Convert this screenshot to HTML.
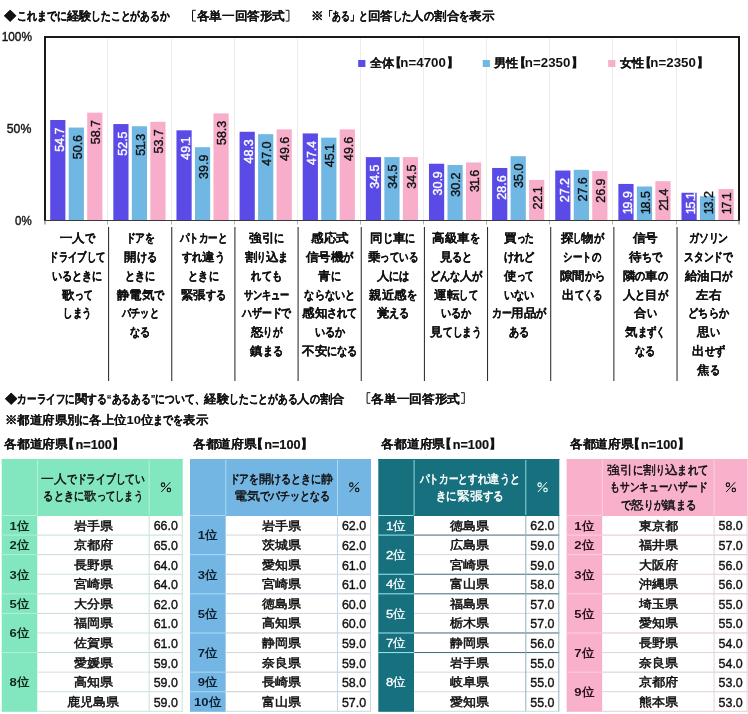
<!DOCTYPE html>
<html lang="ja"><head><meta charset="utf-8"><title>chart</title>
<style>
html,body{margin:0;padding:0;background:#ffffff;width:748px;height:714px;overflow:hidden;}
svg{display:block;will-change:transform;font-family:"Liberation Sans", sans-serif;}
</style></head><body>
<svg width="748" height="714" viewBox="0 0 748 714">
<rect x="107.00" y="38.00" width="1.00" height="182.00" fill="#ececec"/>
<rect x="171.00" y="38.00" width="1.00" height="182.00" fill="#ececec"/>
<rect x="234.00" y="38.00" width="1.00" height="182.00" fill="#ececec"/>
<rect x="297.00" y="38.00" width="1.00" height="182.00" fill="#ececec"/>
<rect x="360.00" y="38.00" width="1.00" height="182.00" fill="#ececec"/>
<rect x="423.00" y="38.00" width="1.00" height="182.00" fill="#ececec"/>
<rect x="486.00" y="38.00" width="1.00" height="182.00" fill="#ececec"/>
<rect x="549.00" y="38.00" width="1.00" height="182.00" fill="#ececec"/>
<rect x="612.00" y="38.00" width="1.00" height="182.00" fill="#ececec"/>
<rect x="676.00" y="38.00" width="1.00" height="182.00" fill="#ececec"/>
<rect x="50.20" y="120.02" width="15.20" height="100.48" fill="#5b4be6"/>
<rect x="68.70" y="127.55" width="15.20" height="92.95" fill="#70b7e3"/>
<rect x="87.20" y="112.67" width="15.20" height="107.83" fill="#f8aecb"/>
<rect x="113.33" y="124.06" width="15.20" height="96.44" fill="#5b4be6"/>
<rect x="131.83" y="126.26" width="15.20" height="94.24" fill="#70b7e3"/>
<rect x="150.33" y="121.85" width="15.20" height="98.65" fill="#f8aecb"/>
<rect x="176.46" y="130.30" width="15.20" height="90.20" fill="#5b4be6"/>
<rect x="194.96" y="147.20" width="15.20" height="73.30" fill="#70b7e3"/>
<rect x="213.46" y="113.40" width="15.20" height="107.10" fill="#f8aecb"/>
<rect x="239.59" y="131.77" width="15.20" height="88.73" fill="#5b4be6"/>
<rect x="258.09" y="134.16" width="15.20" height="86.34" fill="#70b7e3"/>
<rect x="276.59" y="129.38" width="15.20" height="91.12" fill="#f8aecb"/>
<rect x="302.72" y="133.43" width="15.20" height="87.07" fill="#5b4be6"/>
<rect x="321.22" y="137.65" width="15.20" height="82.85" fill="#70b7e3"/>
<rect x="339.72" y="129.38" width="15.20" height="91.12" fill="#f8aecb"/>
<rect x="365.85" y="157.12" width="15.20" height="63.38" fill="#5b4be6"/>
<rect x="384.35" y="157.12" width="15.20" height="63.38" fill="#70b7e3"/>
<rect x="402.85" y="157.12" width="15.20" height="63.38" fill="#f8aecb"/>
<rect x="428.98" y="163.74" width="15.20" height="56.76" fill="#5b4be6"/>
<rect x="447.48" y="165.02" width="15.20" height="55.48" fill="#70b7e3"/>
<rect x="465.98" y="162.45" width="15.20" height="58.05" fill="#f8aecb"/>
<rect x="492.11" y="167.96" width="15.20" height="52.54" fill="#5b4be6"/>
<rect x="510.61" y="156.20" width="15.20" height="64.30" fill="#70b7e3"/>
<rect x="529.11" y="179.90" width="15.20" height="40.60" fill="#f8aecb"/>
<rect x="555.24" y="170.53" width="15.20" height="49.97" fill="#5b4be6"/>
<rect x="573.74" y="169.80" width="15.20" height="50.70" fill="#70b7e3"/>
<rect x="592.24" y="171.08" width="15.20" height="49.42" fill="#f8aecb"/>
<rect x="618.37" y="183.94" width="15.20" height="36.56" fill="#5b4be6"/>
<rect x="636.87" y="186.52" width="15.20" height="33.98" fill="#70b7e3"/>
<rect x="655.37" y="181.19" width="15.20" height="39.31" fill="#f8aecb"/>
<rect x="681.50" y="192.76" width="15.20" height="27.74" fill="#5b4be6"/>
<rect x="700.00" y="196.25" width="15.20" height="24.25" fill="#70b7e3"/>
<rect x="718.50" y="189.09" width="15.20" height="31.41" fill="#f8aecb"/>
<rect x="44.00" y="36.00" width="2.00" height="185.00" fill="#1a1a1a"/>
<rect x="44.00" y="36.00" width="696.00" height="2.00" fill="#1a1a1a"/>
<rect x="738.00" y="36.00" width="2.00" height="185.00" fill="#1a1a1a"/>
<rect x="44.00" y="220.00" width="696.00" height="1.00" fill="#3a3a3a"/>
<rect x="44.00" y="221.00" width="2.00" height="3.50" fill="#b4b4b4"/>
<rect x="107.00" y="221.00" width="1.00" height="3.50" fill="#b4b4b4"/>
<rect x="171.00" y="221.00" width="1.00" height="3.50" fill="#b4b4b4"/>
<rect x="234.00" y="221.00" width="1.00" height="3.50" fill="#b4b4b4"/>
<rect x="297.00" y="221.00" width="1.00" height="3.50" fill="#b4b4b4"/>
<rect x="360.00" y="221.00" width="1.00" height="3.50" fill="#b4b4b4"/>
<rect x="423.00" y="221.00" width="1.00" height="3.50" fill="#b4b4b4"/>
<rect x="486.00" y="221.00" width="1.00" height="3.50" fill="#b4b4b4"/>
<rect x="549.00" y="221.00" width="1.00" height="3.50" fill="#b4b4b4"/>
<rect x="612.00" y="221.00" width="1.00" height="3.50" fill="#b4b4b4"/>
<rect x="676.00" y="221.00" width="1.00" height="3.50" fill="#b4b4b4"/>
<rect x="738.00" y="221.00" width="2.00" height="3.50" fill="#b4b4b4"/>
<rect x="108.10" y="227.00" width="1.00" height="154.00" fill="#222"/>
<rect x="171.26" y="227.00" width="1.00" height="154.00" fill="#222"/>
<rect x="234.42" y="227.00" width="1.00" height="154.00" fill="#222"/>
<rect x="297.58" y="227.00" width="1.00" height="154.00" fill="#222"/>
<rect x="360.74" y="227.00" width="1.00" height="154.00" fill="#222"/>
<rect x="423.90" y="227.00" width="1.00" height="154.00" fill="#222"/>
<rect x="487.06" y="227.00" width="1.00" height="154.00" fill="#222"/>
<rect x="550.22" y="227.00" width="1.00" height="154.00" fill="#222"/>
<rect x="613.38" y="227.00" width="1.00" height="154.00" fill="#222"/>
<rect x="676.54" y="227.00" width="1.00" height="154.00" fill="#222"/>
<rect x="358.20" y="60.00" width="7.20" height="7.00" fill="#5b4be6"/>
<path d="M396.60,56.20 H400.50 Q397.90,62.35 400.50,68.50 H396.60 Z" fill="#111"/>
<path d="M451.70,56.20 H447.80 Q450.40,62.35 447.80,68.50 H451.70 Z" fill="#111"/>
<rect x="482.70" y="60.00" width="7.20" height="7.00" fill="#70b7e3"/>
<path d="M521.10,56.20 H525.00 Q522.40,62.35 525.00,68.50 H521.10 Z" fill="#111"/>
<path d="M576.20,56.20 H572.30 Q574.90,62.35 572.30,68.50 H576.20 Z" fill="#111"/>
<rect x="608.20" y="60.00" width="7.20" height="7.00" fill="#f8aecb"/>
<path d="M646.60,56.20 H650.50 Q647.90,62.35 650.50,68.50 H646.60 Z" fill="#111"/>
<path d="M701.70,56.20 H697.80 Q700.40,62.35 697.80,68.50 H701.70 Z" fill="#111"/>
<path d="M195.80,10.30 H192.50 V21.10 H195.80" fill="none" stroke="#111" stroke-width="1"/>
<path d="M285.60,10.30 H288.90 V21.10 H285.60" fill="none" stroke="#111" stroke-width="1"/>
<path d="M370.40,392.70 H367.10 V403.30 H370.40" fill="none" stroke="#111" stroke-width="1"/>
<path d="M461.00,392.70 H464.30 V403.30 H461.00" fill="none" stroke="#111" stroke-width="1"/>
<path d="M69.30,437.60 H73.50 Q70.60,443.70 73.50,449.80 H69.30 Z" fill="#111"/>
<path d="M117.00,437.60 H113.00 Q115.70,443.70 113.00,449.80 H117.00 Z" fill="#111"/>
<rect x="1.70" y="459.00" width="181.00" height="57.00" fill="#82e6be"/>
<rect x="1.70" y="515.50" width="35.80" height="196.30" fill="#82e6be"/>
<rect x="37.50" y="516.00" width="145.20" height="195.80" fill="#ffffff"/>
<rect x="1.70" y="459.00" width="181.00" height="1.00" fill="#82e6be"/>
<rect x="37.00" y="460.00" width="1.00" height="56.00" fill="#b8f0d8"/>
<rect x="148.70" y="460.00" width="1.00" height="56.00" fill="#b8f0d8"/>
<rect x="1.70" y="515.00" width="35.80" height="1.00" fill="#b0f2d4"/>
<rect x="37.00" y="515.00" width="145.70" height="1.00" fill="#82e6be"/>
<rect x="37.50" y="534.58" width="145.20" height="1.00" fill="#c4dcd2"/>
<rect x="1.70" y="534.58" width="35.80" height="1.00" fill="#b0f2d4"/>
<rect x="37.50" y="554.16" width="145.20" height="1.00" fill="#c4dcd2"/>
<rect x="1.70" y="554.16" width="35.80" height="1.00" fill="#b0f2d4"/>
<rect x="37.50" y="573.74" width="145.20" height="1.00" fill="#cde3d9"/>
<rect x="37.50" y="593.32" width="145.20" height="1.00" fill="#c4dcd2"/>
<rect x="1.70" y="593.32" width="35.80" height="1.00" fill="#b0f2d4"/>
<rect x="37.50" y="612.90" width="145.20" height="1.00" fill="#c4dcd2"/>
<rect x="1.70" y="612.90" width="35.80" height="1.00" fill="#b0f2d4"/>
<rect x="37.50" y="632.48" width="145.20" height="1.00" fill="#cde3d9"/>
<rect x="37.50" y="652.06" width="145.20" height="1.00" fill="#c4dcd2"/>
<rect x="1.70" y="652.06" width="35.80" height="1.00" fill="#b0f2d4"/>
<rect x="37.50" y="671.64" width="145.20" height="1.00" fill="#cde3d9"/>
<rect x="37.50" y="691.22" width="145.20" height="1.00" fill="#cde3d9"/>
<rect x="148.70" y="516.00" width="1.00" height="195.80" fill="#c4e4d6"/>
<rect x="181.70" y="516.00" width="1.00" height="195.80" fill="#c4e4d6"/>
<rect x="37.50" y="710.80" width="145.20" height="1.00" fill="#cde3d9"/>
<ellipse cx="163.00" cy="484.7" rx="1.7" ry="1.85" fill="none" stroke="#111" stroke-width="1.15"/>
<ellipse cx="168.90" cy="489.9" rx="1.7" ry="1.85" fill="none" stroke="#111" stroke-width="1.15"/>
<path d="M161.30,492.0 L170.30,482.2" stroke="#111" stroke-width="1.0"/>
<path d="M258.00,437.60 H262.20 Q259.30,443.70 262.20,449.80 H258.00 Z" fill="#111"/>
<path d="M305.70,437.60 H301.70 Q304.40,443.70 301.70,449.80 H305.70 Z" fill="#111"/>
<rect x="190.00" y="459.00" width="181.00" height="57.00" fill="#74b6e3"/>
<rect x="190.00" y="515.50" width="35.80" height="196.30" fill="#74b6e3"/>
<rect x="225.80" y="516.00" width="145.20" height="195.80" fill="#ffffff"/>
<rect x="190.00" y="459.00" width="181.00" height="1.00" fill="#74b6e3"/>
<rect x="225.30" y="460.00" width="1.00" height="56.00" fill="#a6dcf8"/>
<rect x="337.00" y="460.00" width="1.00" height="56.00" fill="#a6dcf8"/>
<rect x="190.00" y="515.00" width="35.80" height="1.00" fill="#a6dcf8"/>
<rect x="225.30" y="515.00" width="145.70" height="1.00" fill="#74b6e3"/>
<rect x="225.80" y="534.58" width="145.20" height="1.00" fill="#d0d6de"/>
<rect x="225.80" y="554.16" width="145.20" height="1.00" fill="#c4ccd6"/>
<rect x="190.00" y="554.16" width="35.80" height="1.00" fill="#a6dcf8"/>
<rect x="225.80" y="573.74" width="145.20" height="1.00" fill="#d0d6de"/>
<rect x="225.80" y="593.32" width="145.20" height="1.00" fill="#c4ccd6"/>
<rect x="190.00" y="593.32" width="35.80" height="1.00" fill="#a6dcf8"/>
<rect x="225.80" y="612.90" width="145.20" height="1.00" fill="#d0d6de"/>
<rect x="225.80" y="632.48" width="145.20" height="1.00" fill="#c4ccd6"/>
<rect x="190.00" y="632.48" width="35.80" height="1.00" fill="#a6dcf8"/>
<rect x="225.80" y="652.06" width="145.20" height="1.00" fill="#d0d6de"/>
<rect x="225.80" y="671.64" width="145.20" height="1.00" fill="#c4ccd6"/>
<rect x="190.00" y="671.64" width="35.80" height="1.00" fill="#a6dcf8"/>
<rect x="225.80" y="691.22" width="145.20" height="1.00" fill="#c4ccd6"/>
<rect x="190.00" y="691.22" width="35.80" height="1.00" fill="#a6dcf8"/>
<rect x="337.00" y="516.00" width="1.00" height="195.80" fill="#c8d8e6"/>
<rect x="370.00" y="516.00" width="1.00" height="195.80" fill="#c8d8e6"/>
<rect x="225.80" y="710.80" width="145.20" height="1.00" fill="#d0d6de"/>
<ellipse cx="351.30" cy="484.7" rx="1.7" ry="1.85" fill="none" stroke="#111" stroke-width="1.15"/>
<ellipse cx="357.20" cy="489.9" rx="1.7" ry="1.85" fill="none" stroke="#111" stroke-width="1.15"/>
<path d="M349.60,492.0 L358.60,482.2" stroke="#111" stroke-width="1.0"/>
<path d="M446.50,437.60 H450.70 Q447.80,443.70 450.70,449.80 H446.50 Z" fill="#111"/>
<path d="M494.20,437.60 H490.20 Q492.90,443.70 490.20,449.80 H494.20 Z" fill="#111"/>
<rect x="378.30" y="459.00" width="181.00" height="57.00" fill="#16707e"/>
<rect x="378.30" y="515.50" width="35.80" height="196.30" fill="#16707e"/>
<rect x="414.10" y="516.00" width="145.20" height="195.80" fill="#ffffff"/>
<rect x="378.30" y="459.00" width="181.00" height="1.00" fill="#16707e"/>
<rect x="413.60" y="460.00" width="1.00" height="56.00" fill="#8fd8e0"/>
<rect x="525.30" y="460.00" width="1.00" height="56.00" fill="#8fd8e0"/>
<rect x="378.30" y="515.00" width="35.80" height="1.00" fill="#a0e8f0"/>
<rect x="413.60" y="515.00" width="145.70" height="1.00" fill="#16707e"/>
<rect x="414.10" y="534.58" width="145.20" height="1.00" fill="#3f6c74"/>
<rect x="378.30" y="534.58" width="35.80" height="1.00" fill="#a0e8f0"/>
<rect x="414.10" y="554.16" width="145.20" height="1.00" fill="#d0dadc"/>
<rect x="414.10" y="573.74" width="145.20" height="1.00" fill="#3f6c74"/>
<rect x="378.30" y="573.74" width="35.80" height="1.00" fill="#a0e8f0"/>
<rect x="414.10" y="593.32" width="145.20" height="1.00" fill="#3f6c74"/>
<rect x="378.30" y="593.32" width="35.80" height="1.00" fill="#a0e8f0"/>
<rect x="414.10" y="612.90" width="145.20" height="1.00" fill="#d0dadc"/>
<rect x="414.10" y="632.48" width="145.20" height="1.00" fill="#3f6c74"/>
<rect x="378.30" y="632.48" width="35.80" height="1.00" fill="#a0e8f0"/>
<rect x="414.10" y="652.06" width="145.20" height="1.00" fill="#3f6c74"/>
<rect x="378.30" y="652.06" width="35.80" height="1.00" fill="#a0e8f0"/>
<rect x="414.10" y="671.64" width="145.20" height="1.00" fill="#d0dadc"/>
<rect x="414.10" y="691.22" width="145.20" height="1.00" fill="#d0dadc"/>
<rect x="525.30" y="516.00" width="1.00" height="195.80" fill="#8fb2b8"/>
<rect x="558.30" y="516.00" width="1.00" height="195.80" fill="#8fb2b8"/>
<rect x="414.10" y="710.80" width="145.20" height="1.00" fill="#d0dadc"/>
<ellipse cx="539.60" cy="484.7" rx="1.7" ry="1.85" fill="none" stroke="#ffffff" stroke-width="1.15"/>
<ellipse cx="545.50" cy="489.9" rx="1.7" ry="1.85" fill="none" stroke="#ffffff" stroke-width="1.15"/>
<path d="M537.90,492.0 L546.90,482.2" stroke="#ffffff" stroke-width="1.0"/>
<path d="M634.90,437.60 H639.10 Q636.20,443.70 639.10,449.80 H634.90 Z" fill="#111"/>
<path d="M682.60,437.60 H678.60 Q681.30,443.70 678.60,449.80 H682.60 Z" fill="#111"/>
<rect x="566.60" y="459.00" width="181.00" height="57.00" fill="#f8b0cb"/>
<rect x="566.60" y="515.50" width="35.80" height="196.30" fill="#f8b0cb"/>
<rect x="602.40" y="516.00" width="145.20" height="195.80" fill="#ffffff"/>
<rect x="566.60" y="459.00" width="181.00" height="1.00" fill="#f8b0cb"/>
<rect x="601.90" y="460.00" width="1.00" height="56.00" fill="#fcd0e0"/>
<rect x="713.60" y="460.00" width="1.00" height="56.00" fill="#fcd0e0"/>
<rect x="566.60" y="515.00" width="35.80" height="1.00" fill="#fcd0e0"/>
<rect x="601.90" y="515.00" width="145.70" height="1.00" fill="#f8b0cb"/>
<rect x="602.40" y="534.58" width="145.20" height="1.00" fill="#dcc8d0"/>
<rect x="566.60" y="534.58" width="35.80" height="1.00" fill="#fcd0e0"/>
<rect x="602.40" y="554.16" width="145.20" height="1.00" fill="#dcc8d0"/>
<rect x="566.60" y="554.16" width="35.80" height="1.00" fill="#fcd0e0"/>
<rect x="602.40" y="573.74" width="145.20" height="1.00" fill="#e2d2d8"/>
<rect x="602.40" y="593.32" width="145.20" height="1.00" fill="#dcc8d0"/>
<rect x="566.60" y="593.32" width="35.80" height="1.00" fill="#fcd0e0"/>
<rect x="602.40" y="612.90" width="145.20" height="1.00" fill="#e2d2d8"/>
<rect x="602.40" y="632.48" width="145.20" height="1.00" fill="#dcc8d0"/>
<rect x="566.60" y="632.48" width="35.80" height="1.00" fill="#fcd0e0"/>
<rect x="602.40" y="652.06" width="145.20" height="1.00" fill="#e2d2d8"/>
<rect x="602.40" y="671.64" width="145.20" height="1.00" fill="#dcc8d0"/>
<rect x="566.60" y="671.64" width="35.80" height="1.00" fill="#fcd0e0"/>
<rect x="602.40" y="691.22" width="145.20" height="1.00" fill="#e2d2d8"/>
<rect x="713.60" y="516.00" width="1.00" height="195.80" fill="#e6d2da"/>
<rect x="746.60" y="516.00" width="1.00" height="195.80" fill="#e6d2da"/>
<rect x="602.40" y="710.80" width="145.20" height="1.00" fill="#e2d2d8"/>
<ellipse cx="727.90" cy="484.7" rx="1.7" ry="1.85" fill="none" stroke="#111" stroke-width="1.15"/>
<ellipse cx="733.80" cy="489.9" rx="1.7" ry="1.85" fill="none" stroke="#111" stroke-width="1.15"/>
<path d="M726.20,492.0 L735.20,482.2" stroke="#111" stroke-width="1.0"/>
<text transform="translate(63.67,151.72) rotate(-90)" x="0.02 7.02 13.91 17.32" font-size="12.5" fill="#fff" stroke="#fff" stroke-width="0.38">54.7</text>
<text transform="translate(81.57,159.25) rotate(-90)" x="0.02 7.02 13.91 17.32" font-size="12.5" fill="#111" stroke="#111" stroke-width="0.38">50.6</text>
<text transform="translate(100.07,144.37) rotate(-90)" x="0.02 7.02 13.91 17.32" font-size="12.5" fill="#111" stroke="#111" stroke-width="0.38">58.7</text>
<text transform="translate(126.80,155.76) rotate(-90)" x="0.02 7.02 13.91 17.32" font-size="12.5" fill="#fff" stroke="#fff" stroke-width="0.38">52.5</text>
<text transform="translate(144.71,155.76) rotate(-90)" x="0.02 5.92 11.71 15.12" font-size="12.5" fill="#111" stroke="#111" stroke-width="0.38">51.3</text>
<text transform="translate(163.21,153.55) rotate(-90)" x="0.02 7.02 13.91 17.32" font-size="12.5" fill="#111" stroke="#111" stroke-width="0.38">53.7</text>
<text transform="translate(189.94,159.80) rotate(-90)" x="0.02 7.02 13.91 16.23" font-size="12.5" fill="#fff" stroke="#fff" stroke-width="0.38">49.1</text>
<text transform="translate(207.84,178.90) rotate(-90)" x="0.02 7.02 13.91 17.32" font-size="12.5" fill="#111" stroke="#111" stroke-width="0.38">39.9</text>
<text transform="translate(226.34,145.10) rotate(-90)" x="0.02 7.02 13.91 17.32" font-size="12.5" fill="#111" stroke="#111" stroke-width="0.38">58.3</text>
<text transform="translate(253.06,163.47) rotate(-90)" x="0.02 7.02 13.91 17.32" font-size="12.5" fill="#fff" stroke="#fff" stroke-width="0.38">48.3</text>
<text transform="translate(270.97,165.86) rotate(-90)" x="0.02 7.02 13.91 17.32" font-size="12.5" fill="#111" stroke="#111" stroke-width="0.38">47.0</text>
<text transform="translate(289.47,161.08) rotate(-90)" x="0.02 7.02 13.91 17.32" font-size="12.5" fill="#111" stroke="#111" stroke-width="0.38">49.6</text>
<text transform="translate(316.20,165.13) rotate(-90)" x="0.02 7.02 13.91 17.32" font-size="12.5" fill="#fff" stroke="#fff" stroke-width="0.38">47.4</text>
<text transform="translate(334.10,167.15) rotate(-90)" x="0.02 7.02 13.91 16.23" font-size="12.5" fill="#111" stroke="#111" stroke-width="0.38">45.1</text>
<text transform="translate(352.60,161.08) rotate(-90)" x="0.02 7.02 13.91 17.32" font-size="12.5" fill="#111" stroke="#111" stroke-width="0.38">49.6</text>
<text transform="translate(379.33,188.82) rotate(-90)" x="0.02 7.02 13.91 17.32" font-size="12.5" fill="#fff" stroke="#fff" stroke-width="0.38">34.5</text>
<text transform="translate(397.23,188.82) rotate(-90)" x="0.02 7.02 13.91 17.32" font-size="12.5" fill="#111" stroke="#111" stroke-width="0.38">34.5</text>
<text transform="translate(415.73,188.82) rotate(-90)" x="0.02 7.02 13.91 17.32" font-size="12.5" fill="#111" stroke="#111" stroke-width="0.38">34.5</text>
<text transform="translate(442.46,195.44) rotate(-90)" x="0.02 7.02 13.91 17.32" font-size="12.5" fill="#fff" stroke="#fff" stroke-width="0.38">30.9</text>
<text transform="translate(460.36,196.72) rotate(-90)" x="0.02 7.02 13.91 17.32" font-size="12.5" fill="#111" stroke="#111" stroke-width="0.38">30.2</text>
<text transform="translate(478.86,191.95) rotate(-90)" x="0.02 5.92 11.71 15.12" font-size="12.5" fill="#111" stroke="#111" stroke-width="0.38">31.6</text>
<text transform="translate(505.59,199.66) rotate(-90)" x="0.02 7.02 13.91 17.32" font-size="12.5" fill="#fff" stroke="#fff" stroke-width="0.38">28.6</text>
<text transform="translate(523.49,187.90) rotate(-90)" x="0.02 7.02 13.91 17.32" font-size="12.5" fill="#111" stroke="#111" stroke-width="0.38">35.0</text>
<text transform="translate(541.99,209.40) rotate(-90)" x="0.02 7.02 13.91 16.23" font-size="12.5" fill="#111" stroke="#111" stroke-width="0.38">22.1</text>
<text transform="translate(568.72,202.23) rotate(-90)" x="0.02 7.02 13.91 17.32" font-size="12.5" fill="#fff" stroke="#fff" stroke-width="0.38">27.2</text>
<text transform="translate(586.62,201.50) rotate(-90)" x="0.02 7.02 13.91 17.32" font-size="12.5" fill="#111" stroke="#111" stroke-width="0.38">27.6</text>
<text transform="translate(605.12,202.78) rotate(-90)" x="0.02 7.02 13.91 17.32" font-size="12.5" fill="#111" stroke="#111" stroke-width="0.38">26.9</text>
<text transform="translate(631.85,213.20) rotate(-90)" x="-1.08 4.82 11.71 15.12" font-size="12.5" fill="#fff" stroke="#fff" stroke-width="0.38">19.9</text>
<text transform="translate(649.75,213.20) rotate(-90)" x="-1.08 4.82 11.71 15.12" font-size="12.5" fill="#111" stroke="#111" stroke-width="0.38">18.5</text>
<text transform="translate(668.25,210.69) rotate(-90)" x="0.02 5.92 11.71 15.12" font-size="12.5" fill="#111" stroke="#111" stroke-width="0.38">21.4</text>
<text transform="translate(694.98,213.20) rotate(-90)" x="-1.08 4.82 11.71 14.03" font-size="12.5" fill="#fff" stroke="#fff" stroke-width="0.38">15.1</text>
<text transform="translate(712.88,213.20) rotate(-90)" x="-1.08 4.82 11.71 15.12" font-size="12.5" fill="#111" stroke="#111" stroke-width="0.38">13.2</text>
<text transform="translate(731.38,213.20) rotate(-90)" x="-1.08 4.82 11.71 14.03" font-size="12.5" fill="#111" stroke="#111" stroke-width="0.38">17.1</text>
<text x="59.70" y="242.30" font-size="11.62" font-weight="bold" fill="#111" stroke="#111" stroke-width="0.10" textLength="25.00" lengthAdjust="spacingAndGlyphs">一人</text>
<text x="84.70" y="242.30" font-size="11.62" font-weight="bold" fill="#111" stroke="#111" stroke-width="0.30" textLength="10.12" lengthAdjust="spacingAndGlyphs">で</text>
<text x="49.20" y="261.05" font-size="11.62" font-weight="bold" fill="#111" stroke="#111" stroke-width="0.30" textLength="56.12" lengthAdjust="spacingAndGlyphs">ドライブして</text>
<text x="51.95" y="279.80" font-size="11.62" font-weight="bold" fill="#111" stroke="#111" stroke-width="0.30" textLength="50.62" lengthAdjust="spacingAndGlyphs">いるときに</text>
<text x="62.33" y="298.55" font-size="11.62" font-weight="bold" fill="#111" stroke="#111" stroke-width="0.10" textLength="12.50" lengthAdjust="spacingAndGlyphs">歌</text>
<text x="74.83" y="298.55" font-size="11.62" font-weight="bold" fill="#111" stroke="#111" stroke-width="0.30" textLength="17.38" lengthAdjust="spacingAndGlyphs">って</text>
<text x="63.02" y="317.30" font-size="11.62" font-weight="bold" fill="#111" stroke="#111" stroke-width="0.30" textLength="28.50" lengthAdjust="spacingAndGlyphs">しまう</text>
<text x="125.71" y="242.30" font-size="11.62" font-weight="bold" fill="#111" stroke="#111" stroke-width="0.30" textLength="29.38" lengthAdjust="spacingAndGlyphs">ドアを</text>
<text x="124.02" y="261.05" font-size="11.62" font-weight="bold" fill="#111" stroke="#111" stroke-width="0.10" textLength="12.50" lengthAdjust="spacingAndGlyphs">開</text>
<text x="136.52" y="261.05" font-size="11.62" font-weight="bold" fill="#111" stroke="#111" stroke-width="0.30" textLength="20.25" lengthAdjust="spacingAndGlyphs">ける</text>
<text x="125.21" y="279.80" font-size="11.62" font-weight="bold" fill="#111" stroke="#111" stroke-width="0.30" textLength="30.38" lengthAdjust="spacingAndGlyphs">ときに</text>
<text x="116.58" y="298.55" font-size="11.62" font-weight="bold" fill="#111" stroke="#111" stroke-width="0.10" textLength="37.50" lengthAdjust="spacingAndGlyphs">静電気</text>
<text x="154.08" y="298.55" font-size="11.62" font-weight="bold" fill="#111" stroke="#111" stroke-width="0.30" textLength="10.12" lengthAdjust="spacingAndGlyphs">で</text>
<text x="122.08" y="317.30" font-size="11.62" font-weight="bold" fill="#111" stroke="#111" stroke-width="0.30" textLength="36.62" lengthAdjust="spacingAndGlyphs">バチッと</text>
<text x="130.27" y="336.05" font-size="11.62" font-weight="bold" fill="#111" stroke="#111" stroke-width="0.30" textLength="20.25" lengthAdjust="spacingAndGlyphs">なる</text>
<text x="179.78" y="242.30" font-size="11.62" font-weight="bold" fill="#111" stroke="#111" stroke-width="0.30" textLength="47.50" lengthAdjust="spacingAndGlyphs">パトカーと</text>
<text x="182.09" y="261.05" font-size="11.62" font-weight="bold" fill="#111" stroke="#111" stroke-width="0.30" textLength="20.25" lengthAdjust="spacingAndGlyphs">すれ</text>
<text x="202.34" y="261.05" font-size="11.62" font-weight="bold" fill="#111" stroke="#111" stroke-width="0.10" textLength="12.50" lengthAdjust="spacingAndGlyphs">違</text>
<text x="214.84" y="261.05" font-size="11.62" font-weight="bold" fill="#111" stroke="#111" stroke-width="0.30" textLength="10.12" lengthAdjust="spacingAndGlyphs">う</text>
<text x="188.34" y="279.80" font-size="11.62" font-weight="bold" fill="#111" stroke="#111" stroke-width="0.30" textLength="30.38" lengthAdjust="spacingAndGlyphs">ときに</text>
<text x="180.90" y="298.55" font-size="11.62" font-weight="bold" fill="#111" stroke="#111" stroke-width="0.10" textLength="25.00" lengthAdjust="spacingAndGlyphs">緊張</text>
<text x="205.90" y="298.55" font-size="11.62" font-weight="bold" fill="#111" stroke="#111" stroke-width="0.30" textLength="20.25" lengthAdjust="spacingAndGlyphs">する</text>
<text x="249.09" y="242.30" font-size="11.62" font-weight="bold" fill="#111" stroke="#111" stroke-width="0.10" textLength="25.00" lengthAdjust="spacingAndGlyphs">強引</text>
<text x="274.09" y="242.30" font-size="11.62" font-weight="bold" fill="#111" stroke="#111" stroke-width="0.30" textLength="10.12" lengthAdjust="spacingAndGlyphs">に</text>
<text x="244.72" y="261.05" font-size="11.62" font-weight="bold" fill="#111" stroke="#111" stroke-width="0.10" textLength="12.50" lengthAdjust="spacingAndGlyphs">割</text>
<text x="257.22" y="261.05" font-size="11.62" font-weight="bold" fill="#111" stroke="#111" stroke-width="0.30" textLength="8.75" lengthAdjust="spacingAndGlyphs">り</text>
<text x="265.97" y="261.05" font-size="11.62" font-weight="bold" fill="#111" stroke="#111" stroke-width="0.10" textLength="12.50" lengthAdjust="spacingAndGlyphs">込</text>
<text x="278.47" y="261.05" font-size="11.62" font-weight="bold" fill="#111" stroke="#111" stroke-width="0.30" textLength="10.12" lengthAdjust="spacingAndGlyphs">ま</text>
<text x="251.47" y="279.80" font-size="11.62" font-weight="bold" fill="#111" stroke="#111" stroke-width="0.30" textLength="30.38" lengthAdjust="spacingAndGlyphs">れても</text>
<text x="243.72" y="298.55" font-size="11.62" font-weight="bold" fill="#111" stroke="#111" stroke-width="0.30" textLength="45.88" lengthAdjust="spacingAndGlyphs">サンキュー</text>
<text x="241.97" y="317.30" font-size="11.62" font-weight="bold" fill="#111" stroke="#111" stroke-width="0.30" textLength="49.38" lengthAdjust="spacingAndGlyphs">ハザードで</text>
<text x="250.97" y="336.05" font-size="11.62" font-weight="bold" fill="#111" stroke="#111" stroke-width="0.10" textLength="12.50" lengthAdjust="spacingAndGlyphs">怒</text>
<text x="263.47" y="336.05" font-size="11.62" font-weight="bold" fill="#111" stroke="#111" stroke-width="0.30" textLength="18.88" lengthAdjust="spacingAndGlyphs">りが</text>
<text x="250.28" y="354.80" font-size="11.62" font-weight="bold" fill="#111" stroke="#111" stroke-width="0.10" textLength="12.50" lengthAdjust="spacingAndGlyphs">鎮</text>
<text x="262.78" y="354.80" font-size="11.62" font-weight="bold" fill="#111" stroke="#111" stroke-width="0.30" textLength="20.25" lengthAdjust="spacingAndGlyphs">まる</text>
<text x="311.04" y="242.30" font-size="11.62" font-weight="bold" fill="#111" stroke="#111" stroke-width="0.10" textLength="37.50" lengthAdjust="spacingAndGlyphs">感応式</text>
<text x="305.97" y="261.05" font-size="11.62" font-weight="bold" fill="#111" stroke="#111" stroke-width="0.10" textLength="37.50" lengthAdjust="spacingAndGlyphs">信号機</text>
<text x="343.47" y="261.05" font-size="11.62" font-weight="bold" fill="#111" stroke="#111" stroke-width="0.30" textLength="10.12" lengthAdjust="spacingAndGlyphs">が</text>
<text x="318.47" y="279.80" font-size="11.62" font-weight="bold" fill="#111" stroke="#111" stroke-width="0.10" textLength="12.50" lengthAdjust="spacingAndGlyphs">青</text>
<text x="330.97" y="279.80" font-size="11.62" font-weight="bold" fill="#111" stroke="#111" stroke-width="0.30" textLength="10.12" lengthAdjust="spacingAndGlyphs">に</text>
<text x="304.47" y="298.55" font-size="11.62" font-weight="bold" fill="#111" stroke="#111" stroke-width="0.30" textLength="50.62" lengthAdjust="spacingAndGlyphs">ならないと</text>
<text x="302.10" y="317.30" font-size="11.62" font-weight="bold" fill="#111" stroke="#111" stroke-width="0.10" textLength="25.00" lengthAdjust="spacingAndGlyphs">感知</text>
<text x="327.10" y="317.30" font-size="11.62" font-weight="bold" fill="#111" stroke="#111" stroke-width="0.30" textLength="30.38" lengthAdjust="spacingAndGlyphs">されて</text>
<text x="314.60" y="336.05" font-size="11.62" font-weight="bold" fill="#111" stroke="#111" stroke-width="0.30" textLength="30.38" lengthAdjust="spacingAndGlyphs">いるか</text>
<text x="302.10" y="354.80" font-size="11.62" font-weight="bold" fill="#111" stroke="#111" stroke-width="0.10" textLength="25.00" lengthAdjust="spacingAndGlyphs">不安</text>
<text x="327.10" y="354.80" font-size="11.62" font-weight="bold" fill="#111" stroke="#111" stroke-width="0.30" textLength="30.38" lengthAdjust="spacingAndGlyphs">になる</text>
<text x="370.29" y="242.30" font-size="11.62" font-weight="bold" fill="#111" stroke="#111" stroke-width="0.10" textLength="12.50" lengthAdjust="spacingAndGlyphs">同</text>
<text x="382.79" y="242.30" font-size="11.62" font-weight="bold" fill="#111" stroke="#111" stroke-width="0.30" textLength="10.12" lengthAdjust="spacingAndGlyphs">じ</text>
<text x="392.92" y="242.30" font-size="11.62" font-weight="bold" fill="#111" stroke="#111" stroke-width="0.10" textLength="12.50" lengthAdjust="spacingAndGlyphs">車</text>
<text x="405.42" y="242.30" font-size="11.62" font-weight="bold" fill="#111" stroke="#111" stroke-width="0.30" textLength="10.12" lengthAdjust="spacingAndGlyphs">に</text>
<text x="367.85" y="261.05" font-size="11.62" font-weight="bold" fill="#111" stroke="#111" stroke-width="0.10" textLength="12.50" lengthAdjust="spacingAndGlyphs">乗</text>
<text x="380.35" y="261.05" font-size="11.62" font-weight="bold" fill="#111" stroke="#111" stroke-width="0.30" textLength="37.62" lengthAdjust="spacingAndGlyphs">っている</text>
<text x="376.54" y="279.80" font-size="11.62" font-weight="bold" fill="#111" stroke="#111" stroke-width="0.10" textLength="12.50" lengthAdjust="spacingAndGlyphs">人</text>
<text x="389.04" y="279.80" font-size="11.62" font-weight="bold" fill="#111" stroke="#111" stroke-width="0.30" textLength="20.25" lengthAdjust="spacingAndGlyphs">には</text>
<text x="369.10" y="298.55" font-size="11.62" font-weight="bold" fill="#111" stroke="#111" stroke-width="0.10" textLength="37.50" lengthAdjust="spacingAndGlyphs">親近感</text>
<text x="406.60" y="298.55" font-size="11.62" font-weight="bold" fill="#111" stroke="#111" stroke-width="0.30" textLength="10.12" lengthAdjust="spacingAndGlyphs">を</text>
<text x="376.54" y="317.30" font-size="11.62" font-weight="bold" fill="#111" stroke="#111" stroke-width="0.10" textLength="12.50" lengthAdjust="spacingAndGlyphs">覚</text>
<text x="389.04" y="317.30" font-size="11.62" font-weight="bold" fill="#111" stroke="#111" stroke-width="0.30" textLength="20.25" lengthAdjust="spacingAndGlyphs">える</text>
<text x="432.23" y="242.30" font-size="11.62" font-weight="bold" fill="#111" stroke="#111" stroke-width="0.10" textLength="37.50" lengthAdjust="spacingAndGlyphs">高級車</text>
<text x="469.73" y="242.30" font-size="11.62" font-weight="bold" fill="#111" stroke="#111" stroke-width="0.30" textLength="10.12" lengthAdjust="spacingAndGlyphs">を</text>
<text x="439.67" y="261.05" font-size="11.62" font-weight="bold" fill="#111" stroke="#111" stroke-width="0.10" textLength="12.50" lengthAdjust="spacingAndGlyphs">見</text>
<text x="452.17" y="261.05" font-size="11.62" font-weight="bold" fill="#111" stroke="#111" stroke-width="0.30" textLength="20.25" lengthAdjust="spacingAndGlyphs">ると</text>
<text x="429.55" y="279.80" font-size="11.62" font-weight="bold" fill="#111" stroke="#111" stroke-width="0.30" textLength="30.38" lengthAdjust="spacingAndGlyphs">どんな</text>
<text x="459.92" y="279.80" font-size="11.62" font-weight="bold" fill="#111" stroke="#111" stroke-width="0.10" textLength="12.50" lengthAdjust="spacingAndGlyphs">人</text>
<text x="472.42" y="279.80" font-size="11.62" font-weight="bold" fill="#111" stroke="#111" stroke-width="0.30" textLength="10.12" lengthAdjust="spacingAndGlyphs">が</text>
<text x="434.36" y="298.55" font-size="11.62" font-weight="bold" fill="#111" stroke="#111" stroke-width="0.10" textLength="25.00" lengthAdjust="spacingAndGlyphs">運転</text>
<text x="459.36" y="298.55" font-size="11.62" font-weight="bold" fill="#111" stroke="#111" stroke-width="0.30" textLength="18.38" lengthAdjust="spacingAndGlyphs">して</text>
<text x="440.86" y="317.30" font-size="11.62" font-weight="bold" fill="#111" stroke="#111" stroke-width="0.30" textLength="30.38" lengthAdjust="spacingAndGlyphs">いるか</text>
<text x="430.48" y="336.05" font-size="11.62" font-weight="bold" fill="#111" stroke="#111" stroke-width="0.10" textLength="12.50" lengthAdjust="spacingAndGlyphs">見</text>
<text x="442.98" y="336.05" font-size="11.62" font-weight="bold" fill="#111" stroke="#111" stroke-width="0.30" textLength="38.62" lengthAdjust="spacingAndGlyphs">てしまう</text>
<text x="504.24" y="242.30" font-size="11.62" font-weight="bold" fill="#111" stroke="#111" stroke-width="0.10" textLength="12.50" lengthAdjust="spacingAndGlyphs">買</text>
<text x="516.74" y="242.30" font-size="11.62" font-weight="bold" fill="#111" stroke="#111" stroke-width="0.30" textLength="17.38" lengthAdjust="spacingAndGlyphs">った</text>
<text x="503.99" y="261.05" font-size="11.62" font-weight="bold" fill="#111" stroke="#111" stroke-width="0.30" textLength="30.38" lengthAdjust="spacingAndGlyphs">けれど</text>
<text x="504.24" y="279.80" font-size="11.62" font-weight="bold" fill="#111" stroke="#111" stroke-width="0.10" textLength="12.50" lengthAdjust="spacingAndGlyphs">使</text>
<text x="516.74" y="279.80" font-size="11.62" font-weight="bold" fill="#111" stroke="#111" stroke-width="0.30" textLength="17.38" lengthAdjust="spacingAndGlyphs">って</text>
<text x="503.99" y="298.55" font-size="11.62" font-weight="bold" fill="#111" stroke="#111" stroke-width="0.30" textLength="30.38" lengthAdjust="spacingAndGlyphs">いない</text>
<text x="491.74" y="317.30" font-size="11.62" font-weight="bold" fill="#111" stroke="#111" stroke-width="0.30" textLength="19.75" lengthAdjust="spacingAndGlyphs">カー</text>
<text x="511.49" y="317.30" font-size="11.62" font-weight="bold" fill="#111" stroke="#111" stroke-width="0.10" textLength="25.00" lengthAdjust="spacingAndGlyphs">用品</text>
<text x="536.49" y="317.30" font-size="11.62" font-weight="bold" fill="#111" stroke="#111" stroke-width="0.30" textLength="10.12" lengthAdjust="spacingAndGlyphs">が</text>
<text x="509.05" y="336.05" font-size="11.62" font-weight="bold" fill="#111" stroke="#111" stroke-width="0.30" textLength="20.25" lengthAdjust="spacingAndGlyphs">ある</text>
<text x="560.62" y="242.30" font-size="11.62" font-weight="bold" fill="#111" stroke="#111" stroke-width="0.10" textLength="12.50" lengthAdjust="spacingAndGlyphs">探</text>
<text x="573.12" y="242.30" font-size="11.62" font-weight="bold" fill="#111" stroke="#111" stroke-width="0.30" textLength="8.25" lengthAdjust="spacingAndGlyphs">し</text>
<text x="581.37" y="242.30" font-size="11.62" font-weight="bold" fill="#111" stroke="#111" stroke-width="0.10" textLength="12.50" lengthAdjust="spacingAndGlyphs">物</text>
<text x="593.87" y="242.30" font-size="11.62" font-weight="bold" fill="#111" stroke="#111" stroke-width="0.30" textLength="10.12" lengthAdjust="spacingAndGlyphs">が</text>
<text x="563.43" y="261.05" font-size="11.62" font-weight="bold" fill="#111" stroke="#111" stroke-width="0.30" textLength="37.75" lengthAdjust="spacingAndGlyphs">シートの</text>
<text x="559.68" y="279.80" font-size="11.62" font-weight="bold" fill="#111" stroke="#111" stroke-width="0.10" textLength="25.00" lengthAdjust="spacingAndGlyphs">隙間</text>
<text x="584.68" y="279.80" font-size="11.62" font-weight="bold" fill="#111" stroke="#111" stroke-width="0.30" textLength="20.25" lengthAdjust="spacingAndGlyphs">から</text>
<text x="562.05" y="298.55" font-size="11.62" font-weight="bold" fill="#111" stroke="#111" stroke-width="0.10" textLength="12.50" lengthAdjust="spacingAndGlyphs">出</text>
<text x="574.55" y="298.55" font-size="11.62" font-weight="bold" fill="#111" stroke="#111" stroke-width="0.30" textLength="28.00" lengthAdjust="spacingAndGlyphs">てくる</text>
<text x="632.93" y="242.30" font-size="11.62" font-weight="bold" fill="#111" stroke="#111" stroke-width="0.10" textLength="25.00" lengthAdjust="spacingAndGlyphs">信号</text>
<text x="629.06" y="261.05" font-size="11.62" font-weight="bold" fill="#111" stroke="#111" stroke-width="0.10" textLength="12.50" lengthAdjust="spacingAndGlyphs">待</text>
<text x="641.56" y="261.05" font-size="11.62" font-weight="bold" fill="#111" stroke="#111" stroke-width="0.30" textLength="20.25" lengthAdjust="spacingAndGlyphs">ちで</text>
<text x="622.81" y="279.80" font-size="11.62" font-weight="bold" fill="#111" stroke="#111" stroke-width="0.10" textLength="12.50" lengthAdjust="spacingAndGlyphs">隣</text>
<text x="635.31" y="279.80" font-size="11.62" font-weight="bold" fill="#111" stroke="#111" stroke-width="0.30" textLength="10.12" lengthAdjust="spacingAndGlyphs">の</text>
<text x="645.43" y="279.80" font-size="11.62" font-weight="bold" fill="#111" stroke="#111" stroke-width="0.10" textLength="12.50" lengthAdjust="spacingAndGlyphs">車</text>
<text x="657.93" y="279.80" font-size="11.62" font-weight="bold" fill="#111" stroke="#111" stroke-width="0.30" textLength="10.12" lengthAdjust="spacingAndGlyphs">の</text>
<text x="622.81" y="298.55" font-size="11.62" font-weight="bold" fill="#111" stroke="#111" stroke-width="0.10" textLength="12.50" lengthAdjust="spacingAndGlyphs">人</text>
<text x="635.31" y="298.55" font-size="11.62" font-weight="bold" fill="#111" stroke="#111" stroke-width="0.30" textLength="10.12" lengthAdjust="spacingAndGlyphs">と</text>
<text x="645.43" y="298.55" font-size="11.62" font-weight="bold" fill="#111" stroke="#111" stroke-width="0.10" textLength="12.50" lengthAdjust="spacingAndGlyphs">目</text>
<text x="657.93" y="298.55" font-size="11.62" font-weight="bold" fill="#111" stroke="#111" stroke-width="0.30" textLength="10.12" lengthAdjust="spacingAndGlyphs">が</text>
<text x="634.12" y="317.30" font-size="11.62" font-weight="bold" fill="#111" stroke="#111" stroke-width="0.10" textLength="12.50" lengthAdjust="spacingAndGlyphs">合</text>
<text x="646.62" y="317.30" font-size="11.62" font-weight="bold" fill="#111" stroke="#111" stroke-width="0.30" textLength="10.12" lengthAdjust="spacingAndGlyphs">い</text>
<text x="625.18" y="336.05" font-size="11.62" font-weight="bold" fill="#111" stroke="#111" stroke-width="0.10" textLength="12.50" lengthAdjust="spacingAndGlyphs">気</text>
<text x="637.68" y="336.05" font-size="11.62" font-weight="bold" fill="#111" stroke="#111" stroke-width="0.30" textLength="28.00" lengthAdjust="spacingAndGlyphs">まずく</text>
<text x="635.31" y="354.80" font-size="11.62" font-weight="bold" fill="#111" stroke="#111" stroke-width="0.30" textLength="20.25" lengthAdjust="spacingAndGlyphs">なる</text>
<text x="688.81" y="242.30" font-size="11.62" font-weight="bold" fill="#111" stroke="#111" stroke-width="0.30" textLength="39.50" lengthAdjust="spacingAndGlyphs">ガソリン</text>
<text x="684.31" y="261.05" font-size="11.62" font-weight="bold" fill="#111" stroke="#111" stroke-width="0.30" textLength="48.50" lengthAdjust="spacingAndGlyphs">スタンドで</text>
<text x="684.75" y="279.80" font-size="11.62" font-weight="bold" fill="#111" stroke="#111" stroke-width="0.10" textLength="37.50" lengthAdjust="spacingAndGlyphs">給油口</text>
<text x="722.25" y="279.80" font-size="11.62" font-weight="bold" fill="#111" stroke="#111" stroke-width="0.30" textLength="10.12" lengthAdjust="spacingAndGlyphs">が</text>
<text x="696.06" y="298.55" font-size="11.62" font-weight="bold" fill="#111" stroke="#111" stroke-width="0.10" textLength="25.00" lengthAdjust="spacingAndGlyphs">左右</text>
<text x="688.31" y="317.30" font-size="11.62" font-weight="bold" fill="#111" stroke="#111" stroke-width="0.30" textLength="40.50" lengthAdjust="spacingAndGlyphs">どちらか</text>
<text x="697.25" y="336.05" font-size="11.62" font-weight="bold" fill="#111" stroke="#111" stroke-width="0.10" textLength="12.50" lengthAdjust="spacingAndGlyphs">思</text>
<text x="709.75" y="336.05" font-size="11.62" font-weight="bold" fill="#111" stroke="#111" stroke-width="0.30" textLength="10.12" lengthAdjust="spacingAndGlyphs">い</text>
<text x="692.19" y="354.80" font-size="11.62" font-weight="bold" fill="#111" stroke="#111" stroke-width="0.10" textLength="12.50" lengthAdjust="spacingAndGlyphs">出</text>
<text x="704.69" y="354.80" font-size="11.62" font-weight="bold" fill="#111" stroke="#111" stroke-width="0.30" textLength="20.25" lengthAdjust="spacingAndGlyphs">せず</text>
<text x="697.25" y="373.55" font-size="11.62" font-weight="bold" fill="#111" stroke="#111" stroke-width="0.10" textLength="12.50" lengthAdjust="spacingAndGlyphs">焦</text>
<text x="709.75" y="373.55" font-size="11.62" font-weight="bold" fill="#111" stroke="#111" stroke-width="0.30" textLength="10.12" lengthAdjust="spacingAndGlyphs">る</text>
<text x="369.70" y="67.00" font-size="11.62" font-weight="bold" fill="#111" stroke="#111" stroke-width="0.05" textLength="24.50" lengthAdjust="spacingAndGlyphs">全体</text>
<text x="494.20" y="67.00" font-size="11.62" font-weight="bold" fill="#111" stroke="#111" stroke-width="0.05" textLength="24.50" lengthAdjust="spacingAndGlyphs">男性</text>
<text x="619.70" y="67.00" font-size="11.62" font-weight="bold" fill="#111" stroke="#111" stroke-width="0.05" textLength="24.50" lengthAdjust="spacingAndGlyphs">女性</text>
<text x="4.30" y="20.20" font-size="11.62" font-weight="bold" fill="#111" stroke="#111" stroke-width="0.05" textLength="12.35" lengthAdjust="spacingAndGlyphs">◆</text>
<text x="16.65" y="20.20" font-size="11.62" font-weight="bold" fill="#111" stroke="#111" stroke-width="0.25" textLength="50.00" lengthAdjust="spacingAndGlyphs">これまでに</text>
<text x="66.65" y="20.20" font-size="11.62" font-weight="bold" fill="#111" stroke="#111" stroke-width="0.05" textLength="24.69" lengthAdjust="spacingAndGlyphs">経験</text>
<text x="91.34" y="20.20" font-size="11.62" font-weight="bold" fill="#111" stroke="#111" stroke-width="0.25" textLength="78.16" lengthAdjust="spacingAndGlyphs">したことがあるか</text>
<text x="196.70" y="20.20" font-size="11.62" font-weight="bold" fill="#111" stroke="#111" stroke-width="0.05" textLength="88.30" lengthAdjust="spacingAndGlyphs">各単一回答形式</text>
<text x="311.00" y="20.20" font-size="11.62" font-weight="bold" fill="#111" stroke="#111" stroke-width="0.05" textLength="12.55" lengthAdjust="spacingAndGlyphs">※</text>
<text x="323.55" y="20.20" font-size="11.62" font-weight="bold" fill="#111" stroke="#111" stroke-width="0.25" textLength="44.31" lengthAdjust="spacingAndGlyphs">「ある」と</text>
<text x="367.86" y="20.20" font-size="11.62" font-weight="bold" fill="#111" stroke="#111" stroke-width="0.05" textLength="25.10" lengthAdjust="spacingAndGlyphs">回答</text>
<text x="392.96" y="20.20" font-size="11.62" font-weight="bold" fill="#111" stroke="#111" stroke-width="0.25" textLength="18.45" lengthAdjust="spacingAndGlyphs">した</text>
<text x="411.41" y="20.20" font-size="11.62" font-weight="bold" fill="#111" stroke="#111" stroke-width="0.05" textLength="12.55" lengthAdjust="spacingAndGlyphs">人</text>
<text x="423.96" y="20.20" font-size="11.62" font-weight="bold" fill="#111" stroke="#111" stroke-width="0.25" textLength="10.17" lengthAdjust="spacingAndGlyphs">の</text>
<text x="434.13" y="20.20" font-size="11.62" font-weight="bold" fill="#111" stroke="#111" stroke-width="0.05" textLength="25.10" lengthAdjust="spacingAndGlyphs">割合</text>
<text x="459.23" y="20.20" font-size="11.62" font-weight="bold" fill="#111" stroke="#111" stroke-width="0.25" textLength="10.17" lengthAdjust="spacingAndGlyphs">を</text>
<text x="469.40" y="20.20" font-size="11.62" font-weight="bold" fill="#111" stroke="#111" stroke-width="0.05" textLength="25.10" lengthAdjust="spacingAndGlyphs">表示</text>
<text x="5.10" y="403.30" font-size="11.62" font-weight="bold" fill="#111" stroke="#111" stroke-width="0.05" textLength="12.37" lengthAdjust="spacingAndGlyphs">◆</text>
<text x="17.47" y="403.30" font-size="11.62" font-weight="bold" fill="#111" stroke="#111" stroke-width="0.25" textLength="57.39" lengthAdjust="spacingAndGlyphs">カーライフに</text>
<text x="74.86" y="403.30" font-size="11.62" font-weight="bold" fill="#111" stroke="#111" stroke-width="0.05" textLength="12.37" lengthAdjust="spacingAndGlyphs">関</text>
<text x="87.22" y="403.30" font-size="11.62" font-weight="bold" fill="#111" stroke="#111" stroke-width="0.25" textLength="117.25" lengthAdjust="spacingAndGlyphs">する“あるある”について、</text>
<text x="204.47" y="403.30" font-size="11.62" font-weight="bold" fill="#111" stroke="#111" stroke-width="0.05" textLength="24.74" lengthAdjust="spacingAndGlyphs">経験</text>
<text x="229.21" y="403.30" font-size="11.62" font-weight="bold" fill="#111" stroke="#111" stroke-width="0.25" textLength="68.27" lengthAdjust="spacingAndGlyphs">したことがある</text>
<text x="297.48" y="403.30" font-size="11.62" font-weight="bold" fill="#111" stroke="#111" stroke-width="0.05" textLength="12.37" lengthAdjust="spacingAndGlyphs">人</text>
<text x="309.85" y="403.30" font-size="11.62" font-weight="bold" fill="#111" stroke="#111" stroke-width="0.25" textLength="10.02" lengthAdjust="spacingAndGlyphs">の</text>
<text x="319.86" y="403.30" font-size="11.62" font-weight="bold" fill="#111" stroke="#111" stroke-width="0.05" textLength="24.74" lengthAdjust="spacingAndGlyphs">割合</text>
<text x="371.30" y="403.30" font-size="11.62" font-weight="bold" fill="#111" stroke="#111" stroke-width="0.05" textLength="88.80" lengthAdjust="spacingAndGlyphs">各単一回答形式</text>
<text x="5.10" y="423.60" font-size="11.62" font-weight="bold" fill="#111" stroke="#111" stroke-width="0.05" textLength="74.23" lengthAdjust="spacingAndGlyphs">※都道府県別</text>
<text x="79.33" y="423.60" font-size="11.62" font-weight="bold" fill="#111" stroke="#111" stroke-width="0.25" textLength="10.02" lengthAdjust="spacingAndGlyphs">に</text>
<text x="89.35" y="423.60" font-size="11.62" font-weight="bold" fill="#111" stroke="#111" stroke-width="0.05" textLength="37.12" lengthAdjust="spacingAndGlyphs">各上位</text>
<text x="126.47" y="423.60" font-size="11.62" font-weight="bold" fill="#111" stroke="#111" stroke-width="0.05" textLength="14.35" lengthAdjust="spacingAndGlyphs">10</text>
<text x="140.82" y="423.60" font-size="11.62" font-weight="bold" fill="#111" stroke="#111" stroke-width="0.05" textLength="12.37" lengthAdjust="spacingAndGlyphs">位</text>
<text x="153.19" y="423.60" font-size="11.62" font-weight="bold" fill="#111" stroke="#111" stroke-width="0.25" textLength="30.06" lengthAdjust="spacingAndGlyphs">までを</text>
<text x="183.26" y="423.60" font-size="11.62" font-weight="bold" fill="#111" stroke="#111" stroke-width="0.05" textLength="24.74" lengthAdjust="spacingAndGlyphs">表示</text>
<text x="4.20" y="448.30" font-size="11.62" font-weight="bold" fill="#111" stroke="#111" stroke-width="0.05" textLength="63.60" lengthAdjust="spacingAndGlyphs">各都道府県</text>
<text x="41.30" y="482.50" font-size="11.62" fill="#111" stroke="#111" stroke-width="0.40" textLength="25.55" lengthAdjust="spacingAndGlyphs">一人</text>
<text x="66.85" y="482.50" font-size="11.62" fill="#111" stroke="#111" stroke-width="0.60" textLength="78.05" lengthAdjust="spacingAndGlyphs">でドライブしてい</text>
<text x="43.40" y="500.10" font-size="11.62" fill="#111" stroke="#111" stroke-width="0.60" textLength="40.72" lengthAdjust="spacingAndGlyphs">るときに</text>
<text x="84.12" y="500.10" font-size="11.62" fill="#111" stroke="#111" stroke-width="0.40" textLength="12.57" lengthAdjust="spacingAndGlyphs">歌</text>
<text x="96.68" y="500.10" font-size="11.62" fill="#111" stroke="#111" stroke-width="0.60" textLength="46.12" lengthAdjust="spacingAndGlyphs">ってしまう</text>
<text x="9.43" y="529.59" font-size="11.62" font-weight="bold" fill="#0e2a1c" textLength="7.25" lengthAdjust="spacingAndGlyphs">1</text>
<text x="16.68" y="529.59" font-size="11.62" font-weight="bold" fill="#0e2a1c" textLength="12.50" lengthAdjust="spacingAndGlyphs">位</text>
<text x="9.43" y="549.17" font-size="11.62" font-weight="bold" fill="#0e2a1c" textLength="7.25" lengthAdjust="spacingAndGlyphs">2</text>
<text x="16.68" y="549.17" font-size="11.62" font-weight="bold" fill="#0e2a1c" textLength="12.50" lengthAdjust="spacingAndGlyphs">位</text>
<text x="9.43" y="578.54" font-size="11.62" font-weight="bold" fill="#0e2a1c" textLength="7.25" lengthAdjust="spacingAndGlyphs">3</text>
<text x="16.68" y="578.54" font-size="11.62" font-weight="bold" fill="#0e2a1c" textLength="12.50" lengthAdjust="spacingAndGlyphs">位</text>
<text x="9.43" y="607.91" font-size="11.62" font-weight="bold" fill="#0e2a1c" textLength="7.25" lengthAdjust="spacingAndGlyphs">5</text>
<text x="16.68" y="607.91" font-size="11.62" font-weight="bold" fill="#0e2a1c" textLength="12.50" lengthAdjust="spacingAndGlyphs">位</text>
<text x="9.43" y="637.28" font-size="11.62" font-weight="bold" fill="#0e2a1c" textLength="7.25" lengthAdjust="spacingAndGlyphs">6</text>
<text x="16.68" y="637.28" font-size="11.62" font-weight="bold" fill="#0e2a1c" textLength="12.50" lengthAdjust="spacingAndGlyphs">位</text>
<text x="9.43" y="686.23" font-size="11.62" font-weight="bold" fill="#0e2a1c" textLength="7.25" lengthAdjust="spacingAndGlyphs">8</text>
<text x="16.68" y="686.23" font-size="11.62" font-weight="bold" fill="#0e2a1c" textLength="12.50" lengthAdjust="spacingAndGlyphs">位</text>
<text x="73.71" y="529.59" font-size="11.62" fill="#111" stroke="#111" stroke-width="0.50" textLength="39.19" lengthAdjust="spacingAndGlyphs">岩手県</text>
<text x="73.71" y="549.17" font-size="11.62" fill="#111" stroke="#111" stroke-width="0.50" textLength="39.19" lengthAdjust="spacingAndGlyphs">京都府</text>
<text x="73.71" y="568.75" font-size="11.62" fill="#111" stroke="#111" stroke-width="0.50" textLength="39.19" lengthAdjust="spacingAndGlyphs">長野県</text>
<text x="73.71" y="588.33" font-size="11.62" fill="#111" stroke="#111" stroke-width="0.50" textLength="39.19" lengthAdjust="spacingAndGlyphs">宮崎県</text>
<text x="73.71" y="607.91" font-size="11.62" fill="#111" stroke="#111" stroke-width="0.50" textLength="39.19" lengthAdjust="spacingAndGlyphs">大分県</text>
<text x="73.71" y="627.49" font-size="11.62" fill="#111" stroke="#111" stroke-width="0.50" textLength="39.19" lengthAdjust="spacingAndGlyphs">福岡県</text>
<text x="73.71" y="647.07" font-size="11.62" fill="#111" stroke="#111" stroke-width="0.50" textLength="39.19" lengthAdjust="spacingAndGlyphs">佐賀県</text>
<text x="73.71" y="666.65" font-size="11.62" fill="#111" stroke="#111" stroke-width="0.50" textLength="39.19" lengthAdjust="spacingAndGlyphs">愛媛県</text>
<text x="73.71" y="686.23" font-size="11.62" fill="#111" stroke="#111" stroke-width="0.50" textLength="39.19" lengthAdjust="spacingAndGlyphs">高知県</text>
<text x="67.17" y="705.81" font-size="11.62" fill="#111" stroke="#111" stroke-width="0.50" textLength="52.25" lengthAdjust="spacingAndGlyphs">鹿児島県</text>
<text x="192.90" y="448.30" font-size="11.62" font-weight="bold" fill="#111" stroke="#111" stroke-width="0.05" textLength="63.60" lengthAdjust="spacingAndGlyphs">各都道府県</text>
<text x="229.60" y="482.50" font-size="11.62" fill="#111" stroke="#111" stroke-width="0.60" textLength="29.18" lengthAdjust="spacingAndGlyphs">ドアを</text>
<text x="258.78" y="482.50" font-size="11.62" fill="#111" stroke="#111" stroke-width="0.40" textLength="12.42" lengthAdjust="spacingAndGlyphs">開</text>
<text x="271.20" y="482.50" font-size="11.62" fill="#111" stroke="#111" stroke-width="0.60" textLength="50.29" lengthAdjust="spacingAndGlyphs">けるときに</text>
<text x="321.48" y="482.50" font-size="11.62" fill="#111" stroke="#111" stroke-width="0.40" textLength="12.42" lengthAdjust="spacingAndGlyphs">静</text>
<text x="234.10" y="500.10" font-size="11.62" fill="#111" stroke="#111" stroke-width="0.40" textLength="26.03" lengthAdjust="spacingAndGlyphs">電気</text>
<text x="260.13" y="500.10" font-size="11.62" fill="#111" stroke="#111" stroke-width="0.60" textLength="69.77" lengthAdjust="spacingAndGlyphs">でバチッとなる</text>
<text x="197.72" y="539.38" font-size="11.62" font-weight="bold" fill="#0d1f2e" textLength="7.25" lengthAdjust="spacingAndGlyphs">1</text>
<text x="204.97" y="539.38" font-size="11.62" font-weight="bold" fill="#0d1f2e" textLength="12.50" lengthAdjust="spacingAndGlyphs">位</text>
<text x="197.72" y="578.54" font-size="11.62" font-weight="bold" fill="#0d1f2e" textLength="7.25" lengthAdjust="spacingAndGlyphs">3</text>
<text x="204.97" y="578.54" font-size="11.62" font-weight="bold" fill="#0d1f2e" textLength="12.50" lengthAdjust="spacingAndGlyphs">位</text>
<text x="197.72" y="617.70" font-size="11.62" font-weight="bold" fill="#0d1f2e" textLength="7.25" lengthAdjust="spacingAndGlyphs">5</text>
<text x="204.97" y="617.70" font-size="11.62" font-weight="bold" fill="#0d1f2e" textLength="12.50" lengthAdjust="spacingAndGlyphs">位</text>
<text x="197.72" y="656.86" font-size="11.62" font-weight="bold" fill="#0d1f2e" textLength="7.25" lengthAdjust="spacingAndGlyphs">7</text>
<text x="204.97" y="656.86" font-size="11.62" font-weight="bold" fill="#0d1f2e" textLength="12.50" lengthAdjust="spacingAndGlyphs">位</text>
<text x="197.72" y="686.23" font-size="11.62" font-weight="bold" fill="#0d1f2e" textLength="7.25" lengthAdjust="spacingAndGlyphs">9</text>
<text x="204.97" y="686.23" font-size="11.62" font-weight="bold" fill="#0d1f2e" textLength="12.50" lengthAdjust="spacingAndGlyphs">位</text>
<text x="194.10" y="705.81" font-size="11.62" font-weight="bold" fill="#0d1f2e" textLength="14.50" lengthAdjust="spacingAndGlyphs">10</text>
<text x="208.60" y="705.81" font-size="11.62" font-weight="bold" fill="#0d1f2e" textLength="12.50" lengthAdjust="spacingAndGlyphs">位</text>
<text x="262.01" y="529.59" font-size="11.62" fill="#111" stroke="#111" stroke-width="0.50" textLength="39.19" lengthAdjust="spacingAndGlyphs">岩手県</text>
<text x="262.01" y="549.17" font-size="11.62" fill="#111" stroke="#111" stroke-width="0.50" textLength="39.19" lengthAdjust="spacingAndGlyphs">茨城県</text>
<text x="262.01" y="568.75" font-size="11.62" fill="#111" stroke="#111" stroke-width="0.50" textLength="39.19" lengthAdjust="spacingAndGlyphs">愛知県</text>
<text x="262.01" y="588.33" font-size="11.62" fill="#111" stroke="#111" stroke-width="0.50" textLength="39.19" lengthAdjust="spacingAndGlyphs">宮崎県</text>
<text x="262.01" y="607.91" font-size="11.62" fill="#111" stroke="#111" stroke-width="0.50" textLength="39.19" lengthAdjust="spacingAndGlyphs">徳島県</text>
<text x="262.01" y="627.49" font-size="11.62" fill="#111" stroke="#111" stroke-width="0.50" textLength="39.19" lengthAdjust="spacingAndGlyphs">高知県</text>
<text x="262.01" y="647.07" font-size="11.62" fill="#111" stroke="#111" stroke-width="0.50" textLength="39.19" lengthAdjust="spacingAndGlyphs">静岡県</text>
<text x="262.01" y="666.65" font-size="11.62" fill="#111" stroke="#111" stroke-width="0.50" textLength="39.19" lengthAdjust="spacingAndGlyphs">奈良県</text>
<text x="262.01" y="686.23" font-size="11.62" fill="#111" stroke="#111" stroke-width="0.50" textLength="39.19" lengthAdjust="spacingAndGlyphs">長崎県</text>
<text x="262.01" y="705.81" font-size="11.62" fill="#111" stroke="#111" stroke-width="0.50" textLength="39.19" lengthAdjust="spacingAndGlyphs">富山県</text>
<text x="381.40" y="448.30" font-size="11.62" font-weight="bold" fill="#111" stroke="#111" stroke-width="0.05" textLength="63.60" lengthAdjust="spacingAndGlyphs">各都道府県</text>
<text x="419.90" y="482.50" font-size="11.62" fill="#ffffff" stroke="#ffffff" stroke-width="0.60" textLength="67.21" lengthAdjust="spacingAndGlyphs">パトカーとすれ</text>
<text x="487.11" y="482.50" font-size="11.62" fill="#ffffff" stroke="#ffffff" stroke-width="0.40" textLength="12.40" lengthAdjust="spacingAndGlyphs">違</text>
<text x="499.51" y="482.50" font-size="11.62" fill="#ffffff" stroke="#ffffff" stroke-width="0.60" textLength="20.09" lengthAdjust="spacingAndGlyphs">うと</text>
<text x="436.00" y="500.10" font-size="11.62" fill="#ffffff" stroke="#ffffff" stroke-width="0.60" textLength="20.87" lengthAdjust="spacingAndGlyphs">きに</text>
<text x="456.87" y="500.10" font-size="11.62" fill="#ffffff" stroke="#ffffff" stroke-width="0.40" textLength="25.76" lengthAdjust="spacingAndGlyphs">緊張</text>
<text x="482.63" y="500.10" font-size="11.62" fill="#ffffff" stroke="#ffffff" stroke-width="0.60" textLength="20.87" lengthAdjust="spacingAndGlyphs">する</text>
<text x="386.03" y="529.59" font-size="11.62" fill="#ffffff" stroke="#ffffff" stroke-width="0.30" textLength="7.25" lengthAdjust="spacingAndGlyphs">1</text>
<text x="393.28" y="529.59" font-size="11.62" fill="#ffffff" stroke="#ffffff" stroke-width="0.30" textLength="12.50" lengthAdjust="spacingAndGlyphs">位</text>
<text x="386.03" y="558.96" font-size="11.62" fill="#ffffff" stroke="#ffffff" stroke-width="0.30" textLength="7.25" lengthAdjust="spacingAndGlyphs">2</text>
<text x="393.28" y="558.96" font-size="11.62" fill="#ffffff" stroke="#ffffff" stroke-width="0.30" textLength="12.50" lengthAdjust="spacingAndGlyphs">位</text>
<text x="386.03" y="588.33" font-size="11.62" fill="#ffffff" stroke="#ffffff" stroke-width="0.30" textLength="7.25" lengthAdjust="spacingAndGlyphs">4</text>
<text x="393.28" y="588.33" font-size="11.62" fill="#ffffff" stroke="#ffffff" stroke-width="0.30" textLength="12.50" lengthAdjust="spacingAndGlyphs">位</text>
<text x="386.03" y="617.70" font-size="11.62" fill="#ffffff" stroke="#ffffff" stroke-width="0.30" textLength="7.25" lengthAdjust="spacingAndGlyphs">5</text>
<text x="393.28" y="617.70" font-size="11.62" fill="#ffffff" stroke="#ffffff" stroke-width="0.30" textLength="12.50" lengthAdjust="spacingAndGlyphs">位</text>
<text x="386.03" y="647.07" font-size="11.62" fill="#ffffff" stroke="#ffffff" stroke-width="0.30" textLength="7.25" lengthAdjust="spacingAndGlyphs">7</text>
<text x="393.28" y="647.07" font-size="11.62" fill="#ffffff" stroke="#ffffff" stroke-width="0.30" textLength="12.50" lengthAdjust="spacingAndGlyphs">位</text>
<text x="386.03" y="686.23" font-size="11.62" fill="#ffffff" stroke="#ffffff" stroke-width="0.30" textLength="7.25" lengthAdjust="spacingAndGlyphs">8</text>
<text x="393.28" y="686.23" font-size="11.62" fill="#ffffff" stroke="#ffffff" stroke-width="0.30" textLength="12.50" lengthAdjust="spacingAndGlyphs">位</text>
<text x="450.31" y="529.59" font-size="11.62" fill="#111" stroke="#111" stroke-width="0.50" textLength="39.19" lengthAdjust="spacingAndGlyphs">徳島県</text>
<text x="450.31" y="549.17" font-size="11.62" fill="#111" stroke="#111" stroke-width="0.50" textLength="39.19" lengthAdjust="spacingAndGlyphs">広島県</text>
<text x="450.31" y="568.75" font-size="11.62" fill="#111" stroke="#111" stroke-width="0.50" textLength="39.19" lengthAdjust="spacingAndGlyphs">宮崎県</text>
<text x="450.31" y="588.33" font-size="11.62" fill="#111" stroke="#111" stroke-width="0.50" textLength="39.19" lengthAdjust="spacingAndGlyphs">富山県</text>
<text x="450.31" y="607.91" font-size="11.62" fill="#111" stroke="#111" stroke-width="0.50" textLength="39.19" lengthAdjust="spacingAndGlyphs">福島県</text>
<text x="450.31" y="627.49" font-size="11.62" fill="#111" stroke="#111" stroke-width="0.50" textLength="39.19" lengthAdjust="spacingAndGlyphs">栃木県</text>
<text x="450.31" y="647.07" font-size="11.62" fill="#111" stroke="#111" stroke-width="0.50" textLength="39.19" lengthAdjust="spacingAndGlyphs">静岡県</text>
<text x="450.31" y="666.65" font-size="11.62" fill="#111" stroke="#111" stroke-width="0.50" textLength="39.19" lengthAdjust="spacingAndGlyphs">岩手県</text>
<text x="450.31" y="686.23" font-size="11.62" fill="#111" stroke="#111" stroke-width="0.50" textLength="39.19" lengthAdjust="spacingAndGlyphs">岐阜県</text>
<text x="450.31" y="705.81" font-size="11.62" fill="#111" stroke="#111" stroke-width="0.50" textLength="39.19" lengthAdjust="spacingAndGlyphs">愛知県</text>
<text x="569.80" y="448.30" font-size="11.62" font-weight="bold" fill="#111" stroke="#111" stroke-width="0.05" textLength="63.60" lengthAdjust="spacingAndGlyphs">各都道府県</text>
<text x="607.20" y="473.70" font-size="11.62" fill="#111" stroke="#111" stroke-width="0.40" textLength="25.47" lengthAdjust="spacingAndGlyphs">強引</text>
<text x="632.67" y="473.70" font-size="11.62" fill="#111" stroke="#111" stroke-width="0.60" textLength="10.31" lengthAdjust="spacingAndGlyphs">に</text>
<text x="642.98" y="473.70" font-size="11.62" fill="#111" stroke="#111" stroke-width="0.40" textLength="12.73" lengthAdjust="spacingAndGlyphs">割</text>
<text x="655.71" y="473.70" font-size="11.62" fill="#111" stroke="#111" stroke-width="0.60" textLength="8.91" lengthAdjust="spacingAndGlyphs">り</text>
<text x="664.63" y="473.70" font-size="11.62" fill="#111" stroke="#111" stroke-width="0.40" textLength="12.73" lengthAdjust="spacingAndGlyphs">込</text>
<text x="677.36" y="473.70" font-size="11.62" fill="#111" stroke="#111" stroke-width="0.60" textLength="30.94" lengthAdjust="spacingAndGlyphs">まれて</text>
<text x="610.40" y="491.30" font-size="11.62" fill="#111" stroke="#111" stroke-width="0.60" textLength="96.80" lengthAdjust="spacingAndGlyphs">もサンキューハザード</text>
<text x="621.20" y="508.90" font-size="11.62" fill="#111" stroke="#111" stroke-width="0.60" textLength="10.31" lengthAdjust="spacingAndGlyphs">で</text>
<text x="631.51" y="508.90" font-size="11.62" fill="#111" stroke="#111" stroke-width="0.40" textLength="12.73" lengthAdjust="spacingAndGlyphs">怒</text>
<text x="644.24" y="508.90" font-size="11.62" fill="#111" stroke="#111" stroke-width="0.60" textLength="19.22" lengthAdjust="spacingAndGlyphs">りが</text>
<text x="663.45" y="508.90" font-size="11.62" fill="#111" stroke="#111" stroke-width="0.40" textLength="12.73" lengthAdjust="spacingAndGlyphs">鎮</text>
<text x="676.18" y="508.90" font-size="11.62" fill="#111" stroke="#111" stroke-width="0.60" textLength="20.62" lengthAdjust="spacingAndGlyphs">まる</text>
<text x="574.33" y="529.59" font-size="11.62" font-weight="bold" fill="#2a1019" textLength="7.25" lengthAdjust="spacingAndGlyphs">1</text>
<text x="581.58" y="529.59" font-size="11.62" font-weight="bold" fill="#2a1019" textLength="12.50" lengthAdjust="spacingAndGlyphs">位</text>
<text x="574.33" y="549.17" font-size="11.62" font-weight="bold" fill="#2a1019" textLength="7.25" lengthAdjust="spacingAndGlyphs">2</text>
<text x="581.58" y="549.17" font-size="11.62" font-weight="bold" fill="#2a1019" textLength="12.50" lengthAdjust="spacingAndGlyphs">位</text>
<text x="574.33" y="578.54" font-size="11.62" font-weight="bold" fill="#2a1019" textLength="7.25" lengthAdjust="spacingAndGlyphs">3</text>
<text x="581.58" y="578.54" font-size="11.62" font-weight="bold" fill="#2a1019" textLength="12.50" lengthAdjust="spacingAndGlyphs">位</text>
<text x="574.33" y="617.70" font-size="11.62" font-weight="bold" fill="#2a1019" textLength="7.25" lengthAdjust="spacingAndGlyphs">5</text>
<text x="581.58" y="617.70" font-size="11.62" font-weight="bold" fill="#2a1019" textLength="12.50" lengthAdjust="spacingAndGlyphs">位</text>
<text x="574.33" y="656.86" font-size="11.62" font-weight="bold" fill="#2a1019" textLength="7.25" lengthAdjust="spacingAndGlyphs">7</text>
<text x="581.58" y="656.86" font-size="11.62" font-weight="bold" fill="#2a1019" textLength="12.50" lengthAdjust="spacingAndGlyphs">位</text>
<text x="574.33" y="696.02" font-size="11.62" font-weight="bold" fill="#2a1019" textLength="7.25" lengthAdjust="spacingAndGlyphs">9</text>
<text x="581.58" y="696.02" font-size="11.62" font-weight="bold" fill="#2a1019" textLength="12.50" lengthAdjust="spacingAndGlyphs">位</text>
<text x="638.61" y="529.59" font-size="11.62" fill="#111" stroke="#111" stroke-width="0.50" textLength="39.19" lengthAdjust="spacingAndGlyphs">東京都</text>
<text x="638.61" y="549.17" font-size="11.62" fill="#111" stroke="#111" stroke-width="0.50" textLength="39.19" lengthAdjust="spacingAndGlyphs">福井県</text>
<text x="638.61" y="568.75" font-size="11.62" fill="#111" stroke="#111" stroke-width="0.50" textLength="39.19" lengthAdjust="spacingAndGlyphs">大阪府</text>
<text x="638.61" y="588.33" font-size="11.62" fill="#111" stroke="#111" stroke-width="0.50" textLength="39.19" lengthAdjust="spacingAndGlyphs">沖縄県</text>
<text x="638.61" y="607.91" font-size="11.62" fill="#111" stroke="#111" stroke-width="0.50" textLength="39.19" lengthAdjust="spacingAndGlyphs">埼玉県</text>
<text x="638.61" y="627.49" font-size="11.62" fill="#111" stroke="#111" stroke-width="0.50" textLength="39.19" lengthAdjust="spacingAndGlyphs">愛知県</text>
<text x="638.61" y="647.07" font-size="11.62" fill="#111" stroke="#111" stroke-width="0.50" textLength="39.19" lengthAdjust="spacingAndGlyphs">長野県</text>
<text x="638.61" y="666.65" font-size="11.62" fill="#111" stroke="#111" stroke-width="0.50" textLength="39.19" lengthAdjust="spacingAndGlyphs">奈良県</text>
<text x="638.61" y="686.23" font-size="11.62" fill="#111" stroke="#111" stroke-width="0.50" textLength="39.19" lengthAdjust="spacingAndGlyphs">京都府</text>
<text x="638.61" y="705.81" font-size="11.62" fill="#111" stroke="#111" stroke-width="0.50" textLength="39.19" lengthAdjust="spacingAndGlyphs">熊本県</text>
<text x="1.71" y="40.80" font-size="12" fill="#111" stroke="#111" stroke-width="0.38" textLength="30.28" lengthAdjust="spacingAndGlyphs">100%</text>
<text x="6.78" y="132.80" font-size="12" fill="#111" stroke="#111" stroke-width="0.38" textLength="24.55" lengthAdjust="spacingAndGlyphs">50%</text>
<text x="15.00" y="224.80" font-size="12" fill="#111" stroke="#111" stroke-width="0.38" textLength="16.63" lengthAdjust="spacingAndGlyphs">0%</text>
<text x="400.39" y="67.00" font-size="12" font-weight="bold" fill="#111" textLength="45.46" lengthAdjust="spacingAndGlyphs">n=4700</text>
<text x="524.89" y="67.00" font-size="12" font-weight="bold" fill="#111" textLength="45.46" lengthAdjust="spacingAndGlyphs">n=2350</text>
<text x="650.39" y="67.00" font-size="12" font-weight="bold" fill="#111" textLength="45.46" lengthAdjust="spacingAndGlyphs">n=2350</text>
<text x="75.47" y="449.00" font-size="12.3" font-weight="bold" fill="#111" stroke="#111" stroke-width="0.2" textLength="36.36" lengthAdjust="spacingAndGlyphs">n=100</text>
<text x="153.64" y="530.49" font-size="13" fill="#111" stroke="#111" stroke-width="0.38" textLength="24.26" lengthAdjust="spacingAndGlyphs">66.0</text>
<text x="153.64" y="550.07" font-size="13" fill="#111" stroke="#111" stroke-width="0.38" textLength="24.26" lengthAdjust="spacingAndGlyphs">65.0</text>
<text x="153.64" y="569.65" font-size="13" fill="#111" stroke="#111" stroke-width="0.38" textLength="24.26" lengthAdjust="spacingAndGlyphs">64.0</text>
<text x="153.64" y="589.23" font-size="13" fill="#111" stroke="#111" stroke-width="0.38" textLength="24.26" lengthAdjust="spacingAndGlyphs">64.0</text>
<text x="153.64" y="608.81" font-size="13" fill="#111" stroke="#111" stroke-width="0.38" textLength="24.26" lengthAdjust="spacingAndGlyphs">62.0</text>
<text x="153.64" y="628.39" font-size="13" fill="#111" stroke="#111" stroke-width="0.38" textLength="24.26" lengthAdjust="spacingAndGlyphs">61.0</text>
<text x="153.64" y="647.97" font-size="13" fill="#111" stroke="#111" stroke-width="0.38" textLength="24.26" lengthAdjust="spacingAndGlyphs">61.0</text>
<text x="153.64" y="667.55" font-size="13" fill="#111" stroke="#111" stroke-width="0.38" textLength="24.26" lengthAdjust="spacingAndGlyphs">59.0</text>
<text x="153.64" y="687.13" font-size="13" fill="#111" stroke="#111" stroke-width="0.38" textLength="24.26" lengthAdjust="spacingAndGlyphs">59.0</text>
<text x="153.64" y="706.71" font-size="13" fill="#111" stroke="#111" stroke-width="0.38" textLength="24.26" lengthAdjust="spacingAndGlyphs">59.0</text>
<text x="264.17" y="449.00" font-size="12.3" font-weight="bold" fill="#111" stroke="#111" stroke-width="0.2" textLength="36.36" lengthAdjust="spacingAndGlyphs">n=100</text>
<text x="341.94" y="530.49" font-size="13" fill="#111" stroke="#111" stroke-width="0.38" textLength="24.26" lengthAdjust="spacingAndGlyphs">62.0</text>
<text x="341.94" y="550.07" font-size="13" fill="#111" stroke="#111" stroke-width="0.38" textLength="24.26" lengthAdjust="spacingAndGlyphs">62.0</text>
<text x="341.94" y="569.65" font-size="13" fill="#111" stroke="#111" stroke-width="0.38" textLength="24.26" lengthAdjust="spacingAndGlyphs">61.0</text>
<text x="341.94" y="589.23" font-size="13" fill="#111" stroke="#111" stroke-width="0.38" textLength="24.26" lengthAdjust="spacingAndGlyphs">61.0</text>
<text x="341.94" y="608.81" font-size="13" fill="#111" stroke="#111" stroke-width="0.38" textLength="24.26" lengthAdjust="spacingAndGlyphs">60.0</text>
<text x="341.94" y="628.39" font-size="13" fill="#111" stroke="#111" stroke-width="0.38" textLength="24.26" lengthAdjust="spacingAndGlyphs">60.0</text>
<text x="341.94" y="647.97" font-size="13" fill="#111" stroke="#111" stroke-width="0.38" textLength="24.26" lengthAdjust="spacingAndGlyphs">59.0</text>
<text x="341.94" y="667.55" font-size="13" fill="#111" stroke="#111" stroke-width="0.38" textLength="24.26" lengthAdjust="spacingAndGlyphs">59.0</text>
<text x="341.94" y="687.13" font-size="13" fill="#111" stroke="#111" stroke-width="0.38" textLength="24.26" lengthAdjust="spacingAndGlyphs">58.0</text>
<text x="341.94" y="706.71" font-size="13" fill="#111" stroke="#111" stroke-width="0.38" textLength="24.26" lengthAdjust="spacingAndGlyphs">57.0</text>
<text x="452.67" y="449.00" font-size="12.3" font-weight="bold" fill="#111" stroke="#111" stroke-width="0.2" textLength="36.36" lengthAdjust="spacingAndGlyphs">n=100</text>
<text x="530.24" y="530.49" font-size="13" fill="#111" stroke="#111" stroke-width="0.38" textLength="24.26" lengthAdjust="spacingAndGlyphs">62.0</text>
<text x="530.24" y="550.07" font-size="13" fill="#111" stroke="#111" stroke-width="0.38" textLength="24.26" lengthAdjust="spacingAndGlyphs">59.0</text>
<text x="530.24" y="569.65" font-size="13" fill="#111" stroke="#111" stroke-width="0.38" textLength="24.26" lengthAdjust="spacingAndGlyphs">59.0</text>
<text x="530.24" y="589.23" font-size="13" fill="#111" stroke="#111" stroke-width="0.38" textLength="24.26" lengthAdjust="spacingAndGlyphs">58.0</text>
<text x="530.24" y="608.81" font-size="13" fill="#111" stroke="#111" stroke-width="0.38" textLength="24.26" lengthAdjust="spacingAndGlyphs">57.0</text>
<text x="530.24" y="628.39" font-size="13" fill="#111" stroke="#111" stroke-width="0.38" textLength="24.26" lengthAdjust="spacingAndGlyphs">57.0</text>
<text x="530.24" y="647.97" font-size="13" fill="#111" stroke="#111" stroke-width="0.38" textLength="24.26" lengthAdjust="spacingAndGlyphs">56.0</text>
<text x="530.24" y="667.55" font-size="13" fill="#111" stroke="#111" stroke-width="0.38" textLength="24.26" lengthAdjust="spacingAndGlyphs">55.0</text>
<text x="530.24" y="687.13" font-size="13" fill="#111" stroke="#111" stroke-width="0.38" textLength="24.26" lengthAdjust="spacingAndGlyphs">55.0</text>
<text x="530.24" y="706.71" font-size="13" fill="#111" stroke="#111" stroke-width="0.38" textLength="24.26" lengthAdjust="spacingAndGlyphs">55.0</text>
<text x="641.07" y="449.00" font-size="12.3" font-weight="bold" fill="#111" stroke="#111" stroke-width="0.2" textLength="36.36" lengthAdjust="spacingAndGlyphs">n=100</text>
<text x="718.54" y="530.49" font-size="13" fill="#111" stroke="#111" stroke-width="0.38" textLength="24.26" lengthAdjust="spacingAndGlyphs">58.0</text>
<text x="718.54" y="550.07" font-size="13" fill="#111" stroke="#111" stroke-width="0.38" textLength="24.26" lengthAdjust="spacingAndGlyphs">57.0</text>
<text x="718.54" y="569.65" font-size="13" fill="#111" stroke="#111" stroke-width="0.38" textLength="24.26" lengthAdjust="spacingAndGlyphs">56.0</text>
<text x="718.54" y="589.23" font-size="13" fill="#111" stroke="#111" stroke-width="0.38" textLength="24.26" lengthAdjust="spacingAndGlyphs">56.0</text>
<text x="718.54" y="608.81" font-size="13" fill="#111" stroke="#111" stroke-width="0.38" textLength="24.26" lengthAdjust="spacingAndGlyphs">55.0</text>
<text x="718.54" y="628.39" font-size="13" fill="#111" stroke="#111" stroke-width="0.38" textLength="24.26" lengthAdjust="spacingAndGlyphs">55.0</text>
<text x="718.54" y="647.97" font-size="13" fill="#111" stroke="#111" stroke-width="0.38" textLength="24.26" lengthAdjust="spacingAndGlyphs">54.0</text>
<text x="718.54" y="667.55" font-size="13" fill="#111" stroke="#111" stroke-width="0.38" textLength="24.26" lengthAdjust="spacingAndGlyphs">54.0</text>
<text x="718.54" y="687.13" font-size="13" fill="#111" stroke="#111" stroke-width="0.38" textLength="24.26" lengthAdjust="spacingAndGlyphs">53.0</text>
<text x="718.54" y="706.71" font-size="13" fill="#111" stroke="#111" stroke-width="0.38" textLength="24.26" lengthAdjust="spacingAndGlyphs">53.0</text>
</svg>
</body></html>
